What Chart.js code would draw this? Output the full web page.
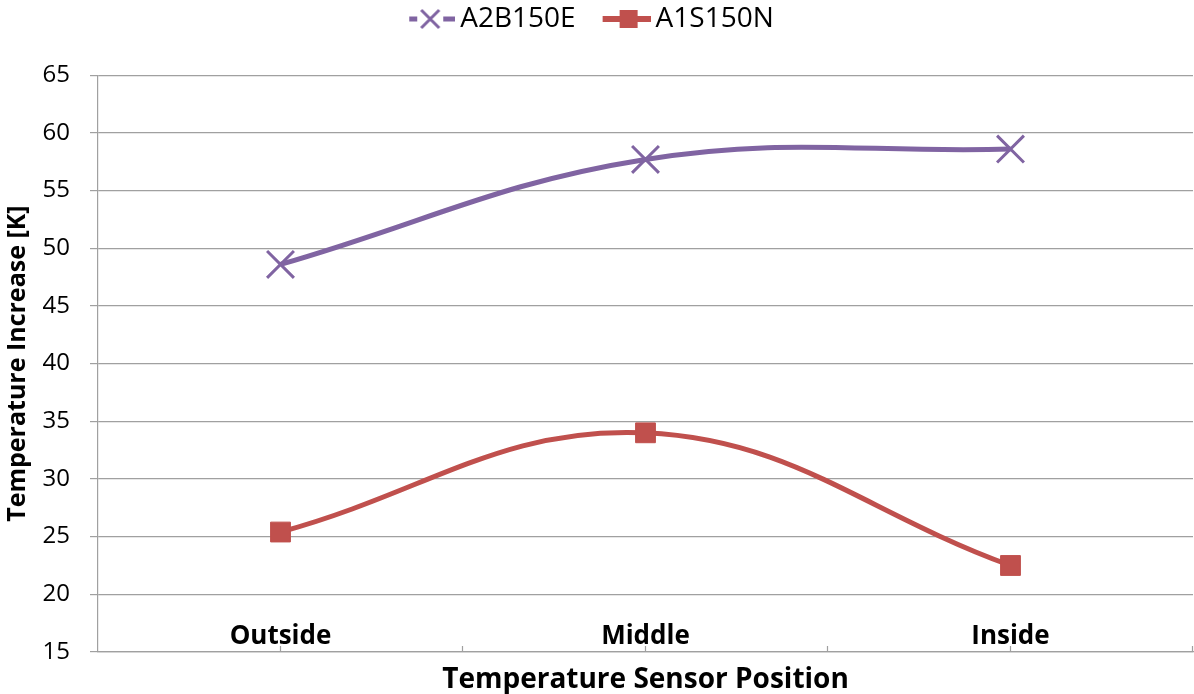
<!DOCTYPE html>
<html lang="en">
<head>
    <meta charset="UTF-8">
    <title>Temperature Increase</title>
    <script src="https://cdn.jsdelivr.net/npm/chart.js"></script>
    <style>
        html, body { margin: 0; padding: 0; background: #fff; }
        .chart-container { width: 1194px; height: 694px; }
    </style>
</head>
<body>
    <div class="chart-container">
        <canvas id="tempChart" width="1194" height="694"></canvas>
    </div>
    <script>
        // chart data
        const positions = ['Outside', 'Middle', 'Inside'];
        const a2b150e = [48.6, 57.7, 58.6];
        const a1s150n = [25.4, 34.0, 22.5];
        const yTicks = [15, 20, 25, 30, 35, 40, 45, 50, 55, 60, 65];

        const purple = '#8064A2';
        const red = '#C0504D';
        const gridGray = '#a0a0a0';

        // legend icons: line - marker - line, like the office style legend
        function legendIcon(color, kind) {
            const c = document.createElement('canvas');
            c.width = 79;
            c.height = 24;
            const g = c.getContext('2d');
            g.strokeStyle = color;
            g.fillStyle = color;
            if (kind === 'cross') {
                g.lineWidth = 5;
                g.beginPath();
                g.moveTo(33, 12); g.lineTo(41, 12);
                g.moveTo(67, 12); g.lineTo(79, 12);
                g.stroke();
                g.lineWidth = 3;
                g.beginPath();
                g.moveTo(45, 3); g.lineTo(63, 21);
                g.moveTo(45, 21); g.lineTo(63, 3);
                g.stroke();
            } else {
                g.lineWidth = 6;
                g.beginPath();
                g.moveTo(31, 12); g.lineTo(79, 12);
                g.stroke();
                g.fillRect(48, 3, 18, 18);
            }
            return c;
        }
        const icons = [legendIcon(purple, 'cross'), legendIcon(red, 'rect')];

        // nudge the legend row a bit to the left
        const legendShift = {
            id: 'legendShift',
            afterLayout(chart) {
                chart.legend.left -= 17;
                chart.legend.right -= 17;
            }
        };

        // short upward tick marks on the category axis (every half category)
        const axisTicks = {
            id: 'axisTicks',
            afterDraw(chart) {
                const s = chart.scales.x;
                const c = chart.ctx;
                const step = (s.right - s.left) / (positions.length * 2);
                c.save();
                c.strokeStyle = gridGray;
                c.lineWidth = 1.2;
                c.beginPath();
                for (let k = 1; k <= positions.length * 2; k++) {
                    const x = Math.round(s.left + k * step) - 0.5;
                    c.moveTo(x, s.top);
                    c.lineTo(x, s.top - 6);
                }
                c.stroke();
                c.restore();
            }
        };

        const ctx = document.getElementById('tempChart').getContext('2d');
        const tempChart = new Chart(ctx, {
            type: 'line',
            data: {
                labels: positions,
                datasets: [{
                    label: 'A2B150E',
                    data: a2b150e,
                    borderColor: purple,
                    backgroundColor: purple,
                    borderWidth: 5,
                    tension: 0.4,
                    pointStyle: 'crossRot',
                    pointRadius: 19,
                    pointHoverRadius: 19,
                    pointBorderWidth: 3
                }, {
                    label: 'A1S150N',
                    data: a1s150n,
                    borderColor: red,
                    backgroundColor: red,
                    borderWidth: 5,
                    tension: 0.4,
                    pointStyle: 'rect',
                    pointRadius: 14,
                    pointHoverRadius: 14,
                    pointBorderWidth: 1
                }]
            },
            plugins: [legendShift, axisTicks],
            options: {
                responsive: false,
                animation: false,
                layout: { autoPadding: false, padding: { top: 0, right: 1, left: 0, bottom: 0 } },
                plugins: {
                    legend: {
                        position: 'top',
                        labels: {
                            usePointStyle: true,
                            pointStyleWidth: 61,
                            padding: 5,
                            color: '#000',
                            font: { family: 'Open Sans', size: 28 },
                            generateLabels: (chart) => chart.data.datasets.map((ds, i) => ({
                                text: ds.label,
                                pointStyle: icons[i],
                                fillStyle: ds.borderColor,
                                strokeStyle: ds.borderColor,
                                lineWidth: 0,
                                fontColor: '#000',
                                datasetIndex: i
                            }))
                        }
                    },
                    // empty spacer between legend and plot
                    subtitle: {
                        display: true,
                        text: '',
                        weight: 100,
                        font: { size: 1 },
                        padding: { top: 0, bottom: 31 }
                    },
                    tooltip: { enabled: false }
                },
                scales: {
                    x: {
                        offset: true,
                        grid: { display: false },
                        border: { display: true, color: gridGray, width: 1.2 },
                        ticks: {
                            color: '#000',
                            mirror: true,
                            padding: 0,
                            font: { family: 'Open Sans', size: 26, weight: 'bold' }
                        },
                        title: {
                            display: true,
                            text: 'Temperature Sensor Position',
                            color: '#000',
                            padding: { top: 0, bottom: -3 },
                            font: { family: 'Open Sans', size: 28, weight: 'bold' }
                        },
                        afterFit: (scale) => { scale.height = 42; }
                    },
                    y: {
                        min: 15,
                        max: 65,
                        afterBuildTicks: (scale) => { scale.ticks = yTicks.map(v => ({ value: v })); },
                        grid: { color: gridGray, lineWidth: 1.2, tickLength: 8 },
                        border: { display: true, color: gridGray, width: 1.2 },
                        ticks: {
                            color: '#000',
                            padding: 20,
                            font: { family: 'Open Sans', size: 24 }
                        },
                        title: {
                            display: true,
                            text: 'Temperature Increase [K]',
                            color: '#000',
                            padding: { top: 3, bottom: 0 },
                            font: { family: 'Open Sans', size: 25, weight: 'bold' }
                        },
                        afterFit: (scale) => { scale.width = 98; }
                    }
                }
            }
        });
    </script>
</body>
</html>
